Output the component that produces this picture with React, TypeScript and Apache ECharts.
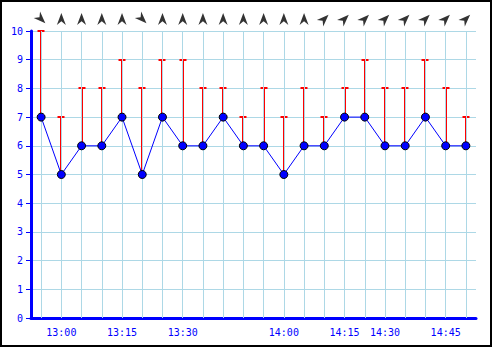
import React, { useEffect, useRef } from "react";
import * as echarts from "echarts";

const times = [
  "12:55", "13:00", "13:05", "13:10", "13:15", "13:20", "13:25", "13:30",
  "13:36", "13:42", "13:48", "13:54", "14:00", "14:05", "14:10", "14:15",
  "14:22", "14:30", "14:35", "14:40", "14:45", "14:50",
];
const tickLabels = ["13:00", "13:15", "13:30", "14:00", "14:15", "14:30", "14:45"];
const windSpeed = [7, 5, 6, 6, 7, 5, 7, 6, 6, 7, 6, 6, 5, 6, 6, 7, 7, 6, 6, 7, 6, 6];
const windGust = [10, 7, 8, 8, 9, 8, 9, 9, 8, 8, 7, 8, 7, 8, 7, 8, 9, 8, 8, 9, 8, 7];
// arrow heading in degrees, clockwise from north (tip direction)
const arrowHeading = [135, 0, 0, 0, 0, 135, 0, 0, 0, 0, 0, 0, 0, 0, 45, 45, 45, 45, 45, 45, 45, 45];

const BLUE = "#0000ff";
const GRID = "#add8e6";
const FONT = "DejaVu Sans Mono";

export default function App() {
  const ref = useRef<HTMLDivElement>(null);
  useEffect(() => {
    if (!ref.current) return;
    const chart = echarts.init(ref.current, undefined, { renderer: "svg" });
    const option: any = {
      animation: false,
      backgroundColor: "#ffffff",
      grid: [
        { left: 31, right: 19, top: 31, bottom: 30 },
        { left: 31, right: 19, top: 8, height: 20 },
      ],
      xAxis: [
        {
          type: "category",
          gridIndex: 0,
          data: times,
          boundaryGap: true,
          axisLine: { lineStyle: { color: BLUE, width: 3 } },
          axisTick: { show: true, inside: true, length: 5, alignWithLabel: true, interval: 0, lineStyle: { color: BLUE, width: 1 } },
          axisLabel: {
            interval: 0,
            margin: 9,
            color: BLUE,
            fontFamily: FONT,
            fontSize: 10,
            formatter: (v: string) => (tickLabels.includes(v) ? v : ""),
          },
          splitLine: { show: false },
        },
        {
          type: "category",
          gridIndex: 1,
          data: times,
          boundaryGap: true,
          show: false,
        },
      ],
      yAxis: [
        {
          type: "value",
          gridIndex: 0,
          min: 0,
          max: 10,
          interval: 1,
          axisLine: { show: true, lineStyle: { color: BLUE, width: 3 } },
          axisTick: { show: true, length: 5, lineStyle: { color: BLUE, width: 1 } },
          axisLabel: { color: BLUE, fontFamily: FONT, fontSize: 10, margin: 8 },
          splitLine: { show: true, lineStyle: { color: GRID, width: 1 } },
        },
        { type: "value", gridIndex: 1, min: 0, max: 1, show: false },
      ],
      series: [
        {
          type: "line",
          xAxisIndex: 0,
          yAxisIndex: 0,
          data: [],
          silent: true,
          z: 1,
          markLine: {
            silent: true,
            symbol: "none",
            label: { show: false },
            lineStyle: { color: GRID, width: 1, type: "solid" },
            emphasis: { disabled: true },
            data: times.map((t) => ({ xAxis: t })),
          },
        },
        {
          type: "custom",
          xAxisIndex: 0,
          yAxisIndex: 0,
          z: 3,
          silent: true,
          data: windSpeed.map((v, i) => [i, v, windGust[i]]),
          encode: { x: 0, y: [1, 2] },
          renderItem: (params: any, api: any) => {
            const i = api.value(0);
            const s = api.coord([i, api.value(1)]);
            const g = api.coord([i, api.value(2)]);
            const x = Math.round(s[0]);
            const gy = Math.round(g[1]);
            const st = { stroke: "#ff0000", lineWidth: 2 };
            return {
              type: "group",
              children: [
                { type: "line", shape: { x1: x, y1: s[1], x2: x, y2: gy }, style: st },
                { type: "line", shape: { x1: x - 3.5, y1: gy, x2: x + 3.5, y2: gy }, style: st },
              ],
            };
          },
        },
        {
          type: "line",
          xAxisIndex: 0,
          yAxisIndex: 0,
          z: 5,
          data: windSpeed,
          symbol: "circle",
          symbolSize: 8,
          lineStyle: { color: BLUE, width: 1 },
          itemStyle: { color: BLUE, borderColor: "#000000", borderWidth: 1 },
        },
        {
          type: "scatter",
          xAxisIndex: 1,
          yAxisIndex: 1,
          silent: true,
          symbol: "path://M0,0 L5,13 L0,9 L-5,13 Z",
          symbolSize: [9, 12],
          itemStyle: { color: "#000000" },
          data: arrowHeading.map((h, i) => ({ value: [i, 0.45], symbolRotate: -h })),
        },
      ],
      graphic: [
        {
          type: "rect",
          shape: { x: 1, y: 1, width: 490, height: 345 },
          style: { fill: "none", stroke: "#000000", lineWidth: 2 },
          silent: true,
          z: 100,
        },
      ],
    };
    chart.setOption(option);
    return () => chart.dispose();
  }, []);
  return (
    <div
      ref={ref}
      style={{ position: "fixed", left: 0, top: 0, width: 495, height: 348 }}
    />
  );
}
